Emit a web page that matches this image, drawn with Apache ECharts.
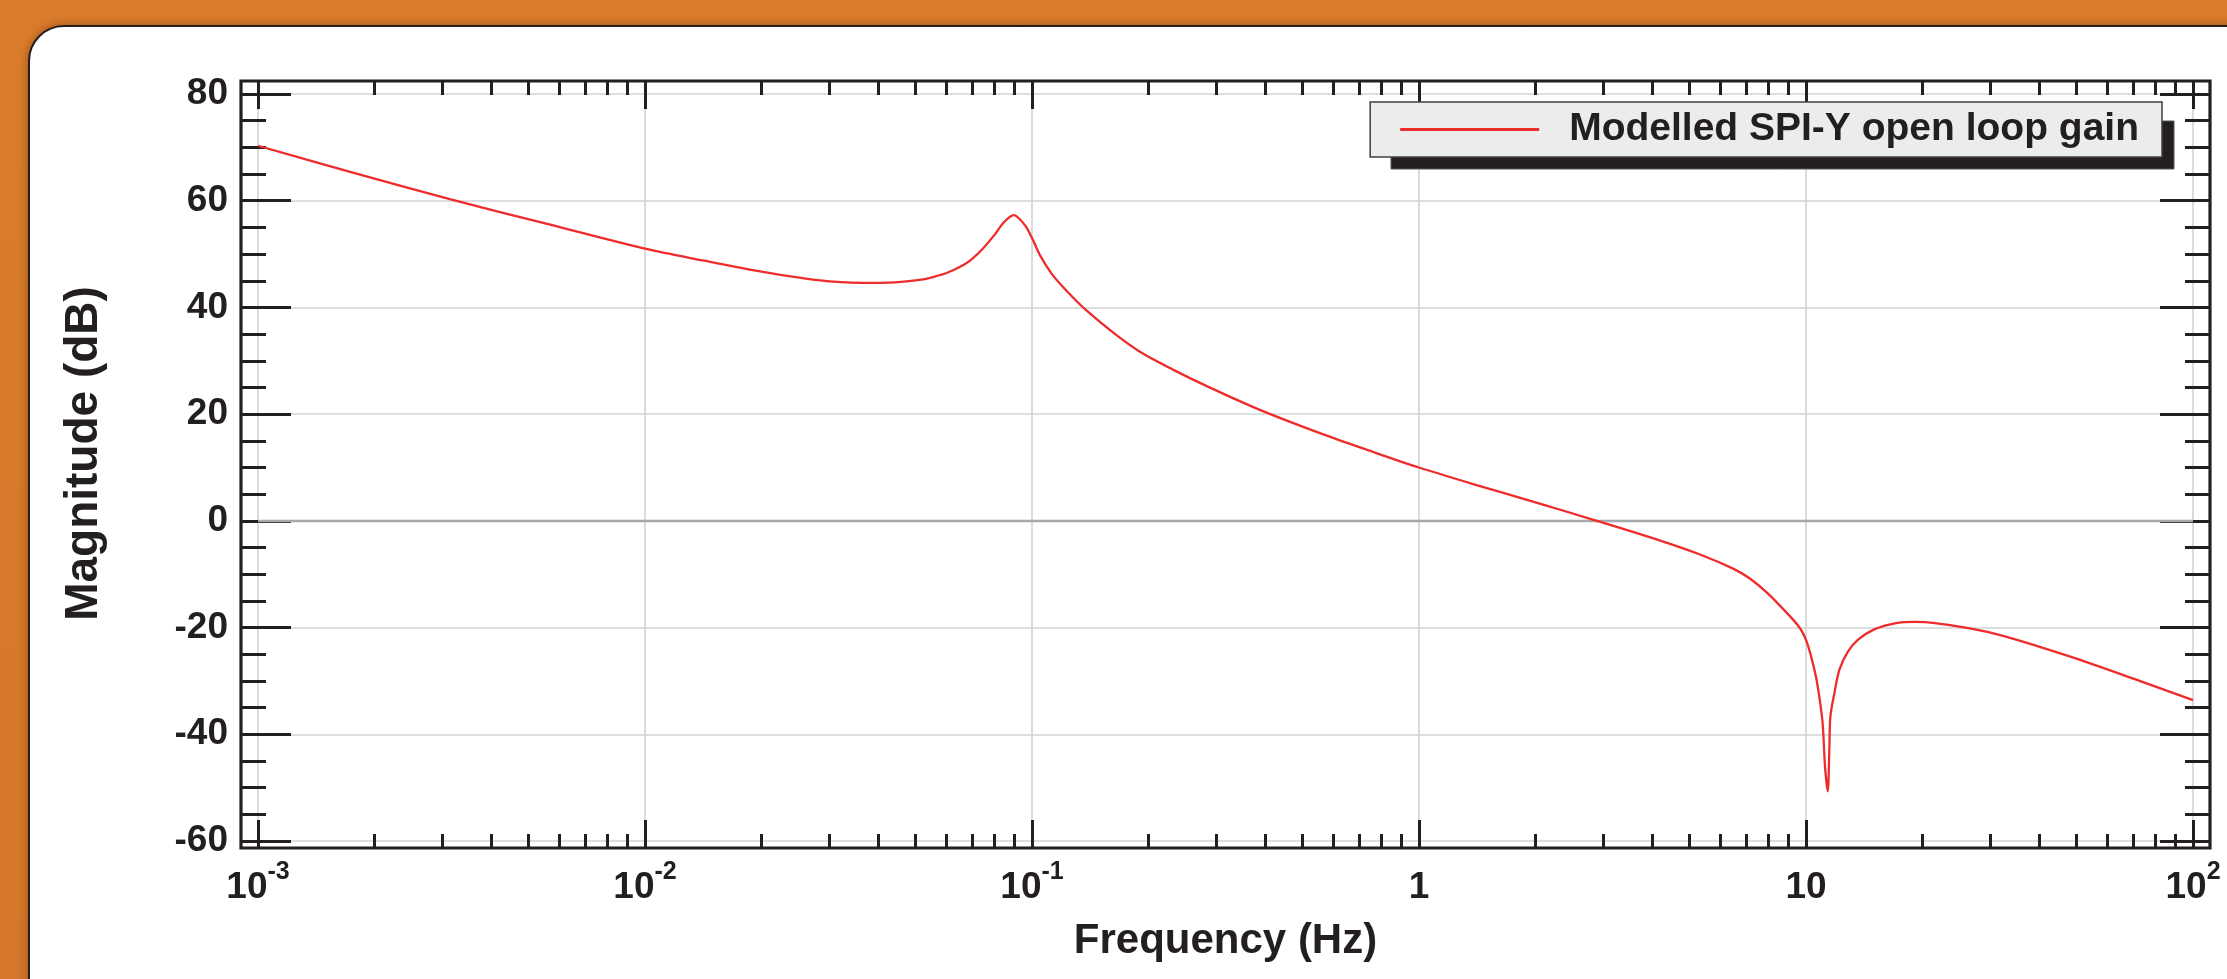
<!DOCTYPE html>
<html><head><meta charset="utf-8">
<script src="https://cdn.jsdelivr.net/npm/echarts@6/dist/echarts.min.js"></script>
<style>
html,body{margin:0;padding:0;width:2227px;height:979px;overflow:hidden;background:linear-gradient(#da7c2b,#d5772a);}
#bg{position:absolute;left:28px;top:25px;width:2300px;height:1100px;background:#fff;border:2.5px solid #231f20;border-top-left-radius:36px;box-shadow:0 0 10px rgba(80,35,0,0.45);}
#chart{position:absolute;left:0;top:0;width:2227px;height:979px;}
</style></head>
<body><div id="bg"></div><div id="chart"></div>
<script>
// ---- data ----
const freqHz = [0.001, 0.00173, 0.00313, 0.00569, 0.01, 0.0141, 0.02, 0.028, 0.0363, 0.0443, 0.0507, 0.0555, 0.0608, 0.0667, 0.0698, 0.0746, 0.08, 0.0847, 0.0897, 0.0959, 0.1, 0.105, 0.1127, 0.1233, 0.138, 0.166, 0.19, 0.232, 0.282, 0.388, 0.566, 0.762, 1, 1.38, 2.06, 2.88, 4.2, 5.32, 6.5, 7.16, 7.94, 9.31, 9.7, 10, 10.3, 10.61, 10.82, 11.04, 11.2, 11.38, 11.49, 11.56, 11.84, 12.2, 12.83, 13.61, 15.05, 16.97, 19.13, 21.53, 26.3, 32.14, 47.97, 71.6, 100];
const magDb = [70.3, 65.4, 60.3, 55.5, 51.0, 48.8, 46.7, 45.1, 44.6, 44.7, 45.1, 45.7, 46.6, 48.0, 49.0, 51.0, 53.6, 56.0, 57.3, 55.4, 53.0, 49.7, 46.2, 43.0, 39.5, 34.7, 31.7, 28.3, 25.3, 20.8, 16.2, 12.9, 10.0, 6.9, 3.2, 0.0, -3.7, -6.3, -9.0, -10.8, -13.5, -18.7, -20.4, -22.3, -25.3, -29.2, -32.9, -37.9, -46.1, -50.7, -42.9, -36.7, -32.3, -27.9, -24.5, -22.3, -20.3, -19.2, -18.95, -19.15, -20.1, -21.5, -25.4, -29.8, -33.6];
const seriesName = 'Modelled SPI-Y open loop gain';
const xMajorTicks = [0.001, 0.01, 0.1, 1, 10, 100];
const xMinorFactors = [2, 3, 4, 5, 6, 7, 8, 9];
const yMin = -60, yMax = 80, yStep = 20;

const FONT = '"Liberation Sans", Arial, Helvetica, sans-serif';
const INK = '#231f20';
const GRIDC = '#d1d3d4';

const xMinorLog = [];
for (let d = Math.log10(xMajorTicks[0]); d < Math.log10(xMajorTicks[xMajorTicks.length - 1]); d++) {
  xMinorFactors.forEach(k => xMinorLog.push(Math.log10(k) + d));
}

function xLabel(v) {
  const e = Math.round(Math.log10(v));
  if (e === 0) return '{b|1}';
  if (e === 1) return '{b|10}';
  return '{b|10}{s|' + e + '}';
}

const chart = echarts.init(document.getElementById('chart'), null, {renderer: 'canvas'});
const tickStyle = {color: INK, width: 3};
const pts = freqHz.map((f, i) => [f, magDb[i]]);

chart.setOption({
  animation: false,
  backgroundColor: 'transparent',
  grid: [{left: 258, right: 34, top: 94, bottom: 138, containLabel: false}],
  graphic: [
    {type: 'rect', z: 100, silent: true,
      shape: {x: 241, y: 81, width: 1969, height: 767},
      style: {fill: 'none', stroke: INK, lineWidth: 3.2}},
    {type: 'rect', z: 3, silent: true,
      shape: {x: 1391, y: 121, width: 783, height: 48},
      style: {fill: INK, stroke: '#58595b', lineWidth: 1}}
  ],
  legend: {
    right: 65, top: 102, z: 5,
    padding: [7, 23, 7, 30],
    itemWidth: 139, itemHeight: 3, icon: 'rect',
    backgroundColor: '#ebedec', borderColor: '#414042', borderWidth: 1.5,
    formatter: n => '{t|' + n + '}',
    textStyle: {color: INK, fontFamily: FONT, fontWeight: 'bold', fontSize: 39, lineHeight: 41,
      rich: {t: {color: INK, fontFamily: FONT, fontWeight: 'bold', fontSize: 39, lineHeight: 41, height: 41, padding: [0, 0, 0, 25]}}},
    data: [seriesName]
  },
  xAxis: [
    {type: 'log', logBase: 10, min: xMajorTicks[0], max: xMajorTicks[xMajorTicks.length - 1], position: 'bottom', offset: 7, gridIndex: 0,
      axisLine: {show: false, onZero: false},
      axisTick: {show: true, inside: true, length: 28, lineStyle: tickStyle},
      axisLabel: {show: true, margin: 12, formatter: xLabel,
        rich: {b: {fontFamily: FONT, fontWeight: 'bold', fontSize: 37, color: INK, lineHeight: 56},
               s: {fontFamily: FONT, fontWeight: 'bold', fontSize: 25, color: INK, lineHeight: 25, verticalAlign: 'top'}}},
      splitLine: {show: true, lineStyle: {color: GRIDC, width: 1.6}},
      name: 'Frequency (Hz)', nameLocation: 'middle', nameGap: 72,
      nameTextStyle: {fontFamily: FONT, fontWeight: 'bold', fontSize: 42, color: INK}},
    {type: 'value', min: -3, max: 2, position: 'bottom', offset: 7, gridIndex: 0,
      axisLine: {show: false, onZero: false},
      axisTick: {show: true, inside: true, length: 14, lineStyle: tickStyle, customValues: xMinorLog},
      axisLabel: {show: false}, splitLine: {show: false}},
    {type: 'log', logBase: 10, min: xMajorTicks[0], max: xMajorTicks[xMajorTicks.length - 1], position: 'top', offset: 13, gridIndex: 0,
      axisLine: {show: false, onZero: false},
      axisTick: {show: true, inside: true, length: 28, lineStyle: tickStyle},
      axisLabel: {show: false}, splitLine: {show: false}},
    {type: 'value', min: -3, max: 2, position: 'top', offset: 13, gridIndex: 0,
      axisLine: {show: false, onZero: false},
      axisTick: {show: true, inside: true, length: 14, lineStyle: tickStyle, customValues: xMinorLog},
      axisLabel: {show: false}, splitLine: {show: false}}
  ],
  yAxis: [
    {type: 'value', min: yMin, max: yMax, interval: yStep, position: 'left', offset: 17, gridIndex: 0,
      axisLine: {show: false, onZero: false},
      axisTick: {show: true, inside: true, length: 50, lineStyle: tickStyle},
      minorTick: {show: true, splitNumber: 4, length: 25, lineStyle: tickStyle},
      axisLabel: {show: true, margin: 13, fontFamily: FONT, fontWeight: 'bold', fontSize: 37, color: INK},
      splitLine: {show: true, lineStyle: {color: GRIDC, width: 1.6}},
      name: 'Magnitude (dB)', nameLocation: 'middle', nameGap: 134, nameRotate: 90,
      nameTextStyle: {fontFamily: FONT, fontWeight: 'bold', fontSize: 46, color: INK, padding: [0, 0, 0, 28]}},
    {type: 'value', min: yMin, max: yMax, interval: yStep, position: 'right', offset: 17, gridIndex: 0,
      axisLine: {show: false, onZero: false},
      axisTick: {show: true, inside: true, length: 50, lineStyle: tickStyle},
      minorTick: {show: true, splitNumber: 4, length: 25, lineStyle: tickStyle},
      axisLabel: {show: false}, splitLine: {show: false}}
  ],
  series: [{
    name: seriesName, type: 'line', xAxisIndex: 0, yAxisIndex: 0,
    data: pts, showSymbol: false, symbol: 'none', smooth: 0.3, z: 5,
    itemStyle: {color: '#ee2c2c'},
    lineStyle: {color: '#ee2c2c', width: 2.3},
    markLine: {silent: true, symbol: 'none', z: 3, label: {show: false},
      lineStyle: {color: '#a7a9ac', width: 2.4, type: 'solid'},
      data: [{yAxis: 0}]}
  }]
});
</script>
</body></html>
